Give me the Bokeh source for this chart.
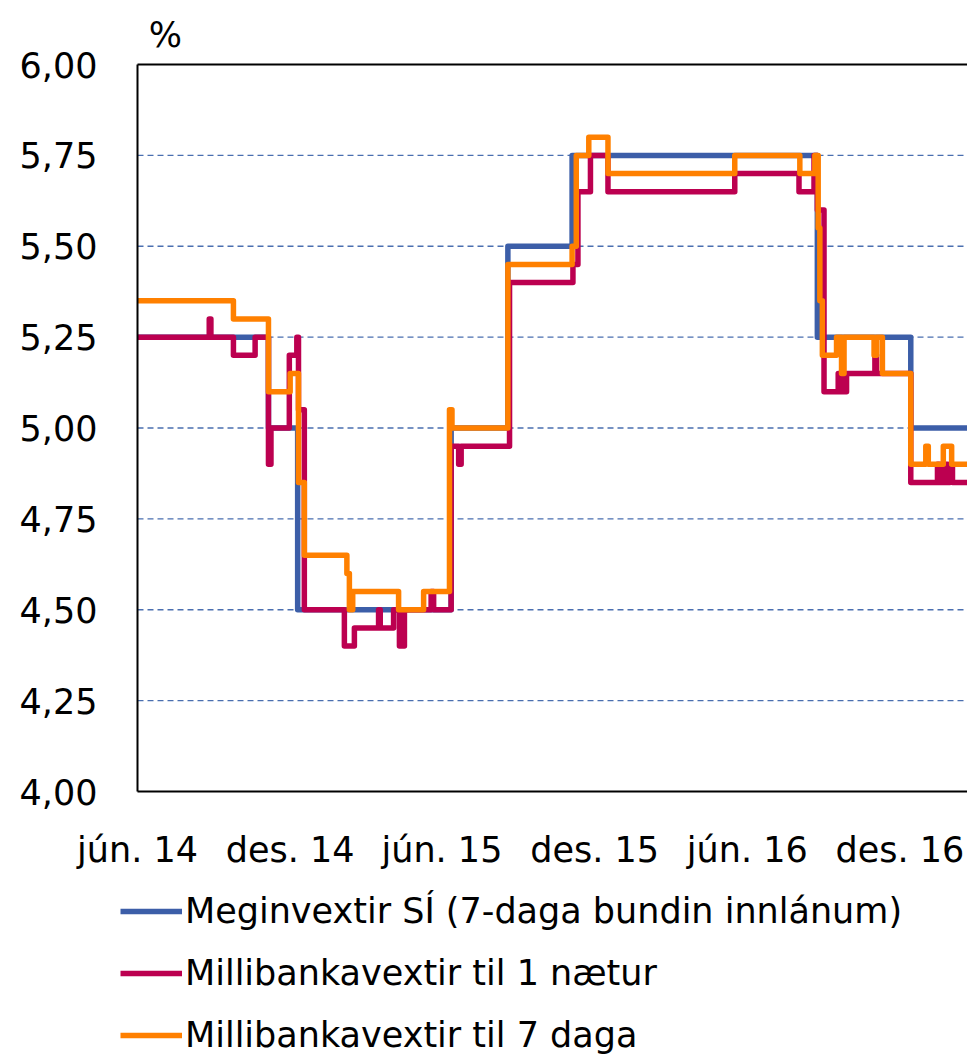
import pandas as pd
from bokeh.plotting import figure
from bokeh.models import Range1d, FixedTicker, Legend, LegendItem, Label, ColumnDataSource
from bokeh.embed import file_html
from bokeh.resources import INLINE

FONT = "DejaVu Sans"
FS = "35px"

# ---------------- data ----------------
tick_dates = ["2014-06-01", "2014-12-01", "2015-06-01", "2015-12-01", "2016-06-01", "2016-12-01"]
tick_labels = ["jún. 14", "des. 14", "jún. 15", "des. 15", "jún. 16", "des. 16"]

y_ticks = [4.00, 4.25, 4.50, 4.75, 5.00, 5.25, 5.50, 5.75, 6.00]
y_tick_labels = ["4,00", "4,25", "4,50", "4,75", "5,00", "5,25", "5,50", "5,75", "6,00"]

series_names = ["Meginvextir SÍ (7-daga bundin innlánum)",
                "Millibankavextir til 1 nætur",
                "Millibankavextir til 7 daga"]

key_dates = ["2014-06-01", "2014-11-05", "2014-12-10", "2015-06-12", "2015-08-19",
             "2015-11-04", "2016-08-24", "2016-12-14", "2017-02-28"]
key_values = [5.25, 5.00, 4.50, 5.00, 5.50, 5.75, 5.25, 5.00, 5.00]

on_dates = ["2014-06-01", "2014-08-26", "2014-08-28", "2014-09-24", "2014-10-20",
            "2014-11-05", "2014-11-08", "2014-11-30", "2014-12-09", "2014-12-11",
            "2014-12-18", "2015-02-04", "2015-02-16", "2015-03-17", "2015-03-19",
            "2015-04-04", "2015-04-11", "2015-04-17", "2015-05-19", "2015-05-22",
            "2015-06-12", "2015-06-21", "2015-06-24", "2015-08-21", "2015-11-05",
            "2015-11-11", "2015-11-26", "2015-12-17", "2016-05-17", "2016-08-02",
            "2016-08-20", "2016-08-24", "2016-09-01", "2016-09-18", "2016-09-20",
            "2016-09-22", "2016-09-24", "2016-09-28", "2016-11-01", "2016-11-03",
            "2016-12-14", "2017-01-15", "2017-01-17", "2017-01-20", "2017-01-22",
            "2017-01-25", "2017-01-27", "2017-01-30", "2017-02-02", "2017-02-28"]
on_values = [5.25, 5.30, 5.25, 5.20, 5.25,
             4.90, 5.00, 5.20, 5.25, 5.05,
             4.50, 4.40, 4.45, 4.50, 4.45,
             4.50, 4.40, 4.50, 4.55, 4.50,
             4.95, 4.90, 4.95, 5.40, 5.45,
             5.65, 5.75, 5.65, 5.70, 5.65,
             5.75, 5.60, 5.10, 5.15, 5.10,
             5.15, 5.10, 5.15, 5.20, 5.15,
             4.85, 4.90, 4.85, 4.90, 4.85,
             4.90, 4.85, 4.90, 4.85, 4.85]

wk_dates = ["2014-06-01", "2014-09-24", "2014-11-05", "2014-12-01", "2014-12-11",
            "2014-12-18", "2015-02-07", "2015-02-10", "2015-02-14", "2015-04-10",
            "2015-05-10", "2015-06-10", "2015-06-13", "2015-08-19", "2015-11-04",
            "2015-11-09", "2015-11-24", "2015-12-17", "2016-05-17", "2016-08-03",
            "2016-08-21", "2016-08-25", "2016-08-27", "2016-08-30", "2016-09-16",
            "2016-09-22", "2016-09-25", "2016-10-31", "2016-11-03", "2016-11-10",
            "2016-12-14", "2017-01-01", "2017-01-04", "2017-01-22", "2017-02-01",
            "2017-02-28"]
wk_values = [5.35, 5.30, 5.10, 5.15, 4.85,
             4.65, 4.60, 4.50, 4.55, 4.50,
             4.55, 5.05, 5.00, 5.45, 5.50,
             5.75, 5.80, 5.70, 5.75, 5.70,
             5.75, 5.55, 5.35, 5.20, 5.25,
             5.15, 5.25, 5.20, 5.25, 5.15,
             4.90, 4.95, 4.90, 4.95, 4.90,
             4.90]

colors = ["#3C5EA8", "#BC0050", "#FF8000"]

# ---------------- layout geometry (pixels) ----------------
W, H = 967, 1058
FRAME_L, FRAME_R, FRAME_T, FRAME_B = 137, 967, 64, 791

axis_start = pd.Timestamp("2014-06-01")
axis_end = pd.Timestamp("2017-02-20")
y_lo, y_hi = 4.0, 6.0

span = axis_end - axis_start
view_start = axis_start - span * (FRAME_L / (FRAME_R - FRAME_L))
y_per_px = (y_hi - y_lo) / (FRAME_B - FRAME_T)
view_top = y_hi + FRAME_T * y_per_px
view_bot = y_lo - (H - FRAME_B) * y_per_px

p = figure(width=W, height=H, x_axis_type="datetime",
           output_backend="svg", toolbar_location=None, min_border=0,
           x_range=Range1d(view_start, axis_end), y_range=Range1d(view_bot, view_top))
p.outline_line_color = None
p.background_fill_color = "white"
p.border_fill_color = "white"
p.grid.visible = False

# dashed gridlines + top border, spanning the axis extent
grid_vals = y_ticks[1:-1]
gsrc = ColumnDataSource(dict(x0=pd.to_datetime([axis_start] * len(grid_vals)),
                             x1=pd.to_datetime([axis_end] * len(grid_vals)),
                             y=grid_vals))
p.segment(x0="x0", x1="x1", y0="y", y1="y", source=gsrc,
          line_color="#4A6FB0", line_width=1.3, line_dash="6 4")
tsrc = ColumnDataSource(dict(x0=pd.to_datetime([axis_start]), x1=pd.to_datetime([axis_end]),
                             y=[y_hi]))
p.segment(x0="x0", x1="x1", y0="y", y1="y", source=tsrc, line_color="black", line_width=2)

renderers = []
for dates, vals, c in [(key_dates, key_values, colors[0]),
                       (on_dates, on_values, colors[1]),
                       (wk_dates, wk_values, colors[2])]:
    r = p.step(x=pd.to_datetime(dates), y=vals, mode="after",
               line_color=c, line_width=5.5, line_join="round")
    renderers.append(r)

# axes fixed at the chart's own edges
tick_ms = [int(pd.Timestamp(d).value // 10**6) for d in tick_dates]
p.xaxis.ticker = FixedTicker(ticks=tick_ms)
p.xaxis.major_label_overrides = {t: l for t, l in zip(tick_ms, tick_labels)}
p.xaxis.fixed_location = y_lo
p.xaxis.bounds = (axis_start.value // 10**6, axis_end.value // 10**6)
p.yaxis.ticker = FixedTicker(ticks=y_ticks)
p.yaxis.major_label_overrides = {t: l for t, l in zip(y_ticks, y_tick_labels)}
p.yaxis.fixed_location = axis_start.value // 10**6
p.yaxis.bounds = (y_lo, y_hi)

for ax in (p.xaxis[0], p.yaxis[0]):
    ax.axis_line_color = "black"
    ax.axis_line_width = 2
    ax.major_tick_out = 0
    ax.major_tick_in = 0
    ax.minor_tick_out = 0
    ax.minor_tick_in = 0
    ax.major_label_text_font = FONT
    ax.major_label_text_font_size = FS
    ax.major_label_text_color = "black"
p.yaxis.major_label_standoff = 40
p.xaxis.major_label_standoff = 38

p.add_layout(Label(x=165, y=H - 34, x_units="screen", y_units="screen", text="%",
                   text_font=FONT, text_font_size=FS, text_align="center",
                   text_baseline="middle", text_color="black"))

legend = Legend(items=[LegendItem(label=n, renderers=[r]) for n, r in zip(series_names, renderers)],
                location=(120, -8), orientation="vertical")
legend.label_text_font = FONT
legend.label_text_font_size = FS
legend.label_text_color = "black"
legend.glyph_width = 62
legend.glyph_height = 62
legend.label_height = 62
legend.label_standoff = 3
legend.spacing = 0
legend.padding = 0
legend.margin = 0
legend.border_line_color = None
legend.background_fill_alpha = 0
p.add_layout(legend, "center")

open("out.html", "w").write(file_html(p, INLINE))
